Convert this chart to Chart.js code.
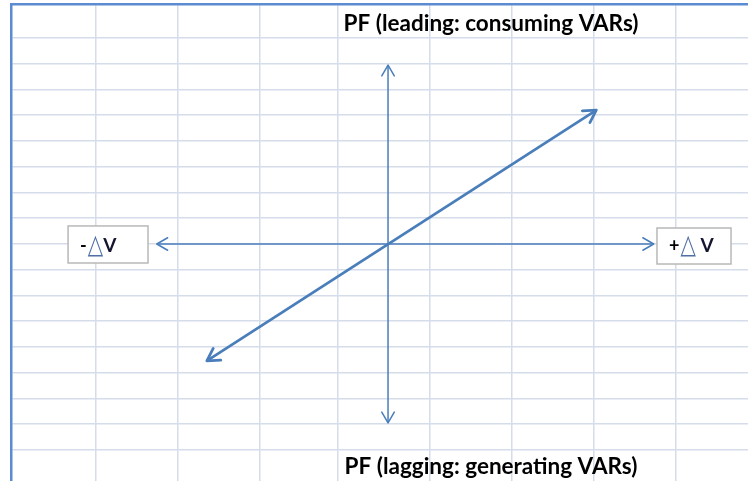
<!DOCTYPE html>
<html><head><meta charset="utf-8">
<script src="https://cdn.jsdelivr.net/npm/chart.js@4"></script>
<style>html,body{margin:0;padding:0;background:#fff;}canvas{display:block}</style>
</head><body>
<canvas id="c" width="748" height="481"></canvas>
<script>
// ---- data (diagram units: x = spreadsheet columns, y = spreadsheet rows, origin at axes crossing)
const topLabel = 'PF (leading: consuming VARs)';
const bottomLabel = 'PF (lagging: generating VARs)';
const negDvLabel = ['-', '△', 'V'];
const posDvLabel = ['+', '△', ' V'];
const dvAxisX = [-2.82, 3.24];
const pfAxisY = [6.95, -6.95];
const pfLineX = [-2.21, 2.54];
const pfLineY = [-4.54, 5.20];
const gridCols = [-3.57, -2.57, -1.57, -0.61, 0.51, 1.51, 2.51, 3.51];
const gridRows = [-8, -7, -6, -5, -4, -3, -2, -1, 0, 1, 2, 3, 4, 5, 6, 7, 8];

const AX = '#4a7ebb';

const diagramPlugin = {
  id: 'diagram',
  afterDatasetsDraw(chart) {
    const ctx = chart.ctx;
    chart.data.datasets.forEach((ds, i) => {
      if (!ds.arrowLen) return;
      const pts = chart.getDatasetMeta(i).data;
      const ends = [[pts[0], pts[pts.length - 1]], [pts[pts.length - 1], pts[0]]];
      ctx.save();
      ctx.strokeStyle = ds.borderColor;
      ctx.lineWidth = ds.borderWidth;
      ctx.lineCap = 'round';
      ctx.lineJoin = 'round';
      ends.forEach(([tip, from]) => {
        const a = Math.atan2(from.y - tip.y, from.x - tip.x);
        const h = Math.PI / 6;
        ctx.beginPath();
        ctx.moveTo(tip.x + ds.arrowLen * Math.cos(a - h), tip.y + ds.arrowLen * Math.sin(a - h));
        ctx.lineTo(tip.x, tip.y);
        ctx.lineTo(tip.x + ds.arrowLen * Math.cos(a + h), tip.y + ds.arrowLen * Math.sin(a + h));
        ctx.stroke();
      });
      ctx.restore();
    });
  },
  afterDraw(chart) {
    const ctx = chart.ctx;
    const xs = chart.scales.x, ys = chart.scales.y;
    ctx.save();
    // titles
    ctx.fillStyle = '#000';
    ctx.font = 'bold 22.5px Lato';
    ctx.textAlign = 'center';
    ctx.textBaseline = 'alphabetic';
    ctx.fillText(topLabel, xs.getPixelForValue(1.256), ys.getPixelForValue(8.27));
    ctx.fillText(bottomLabel, xs.getPixelForValue(1.256), ys.getPixelForValue(-8.93));
    // boxes
    const boxes = [
      {x0: -3.902, x1: -2.927, y0: 0.70, y1: -0.738, parts: negDvLabel},
      {x0: 3.280, x1: 4.183, y0: 0.621, y1: -0.777, parts: posDvLabel}
    ];
    boxes.forEach(b => {
      const L = xs.getPixelForValue(b.x0), R = xs.getPixelForValue(b.x1);
      const T = ys.getPixelForValue(b.y0), B = ys.getPixelForValue(b.y1);
      ctx.fillStyle = '#fff';
      ctx.fillRect(L, T, R - L, B - T);
      ctx.strokeStyle = '#b8b8b8';
      ctx.lineWidth = 1.5;
      ctx.strokeRect(L, T, R - L, B - T);
      let x = L + 12;
      const base = ys.getPixelForValue(-0.30);
      ctx.textAlign = 'left';
      // sign
      ctx.font = 'bold 18px Lato';
      ctx.fillStyle = '#000';
      ctx.fillText(b.parts[0], x, base);
      x += ctx.measureText(b.parts[0]).width + 1;
      // delta triangle
      ctx.font = '20px "DejaVu Sans"';
      ctx.fillStyle = '#4f6fa5';
      ctx.save();
      ctx.translate(x, base + 1.5);
      ctx.scale(1, 1.35);
      ctx.fillText(b.parts[1], 0, 0);
      ctx.restore();
      x += ctx.measureText(b.parts[1]).width;
      // V
      ctx.font = 'bold 19px Lato';
      ctx.fillStyle = '#151530';
      ctx.fillText(b.parts[2], x, base);
    });
    ctx.restore();
  }
};

new Chart(document.getElementById('c'), {
  type: 'scatter',
  data: {
    datasets: [
      {label: 'ΔV axis', data: dvAxisX.map(x => ({x, y: 0})), borderColor: AX, borderWidth: 1.5, arrowLen: 12.5},
      {label: 'PF axis', data: pfAxisY.map(y => ({x: 0, y})), borderColor: AX, borderWidth: 1.5, arrowLen: 12.5},
      {label: 'PF vs ΔV', data: pfLineX.map((x, i) => ({x, y: pfLineY[i]})), borderColor: AX, borderWidth: 2.75, arrowLen: 14}
    ].map(d => Object.assign(d, {showLine: true, pointRadius: 0, pointHoverRadius: 0, fill: false}))
  },
  options: {
    responsive: false,
    animation: false,
    layout: {padding: {left: 11, top: 4, right: 0, bottom: 0}},
    plugins: {legend: {display: false}, tooltip: {enabled: false}, title: {display: false}},
    scales: {
      x: {
        type: 'linear', position: 'top', min: -4.598, max: 4.390,
        afterBuildTicks: s => { s.ticks = gridCols.map(v => ({value: v})); },
        ticks: {display: false},
        grid: {color: '#d5dcea', lineWidth: 1.5, drawTicks: false},
        border: {display: true, color: '#5b8bd0', width: 2.5}
      },
      y: {
        type: 'linear', position: 'left', min: -9.204, max: 9.320,
        afterBuildTicks: s => { s.ticks = gridRows.map(v => ({value: v})); },
        ticks: {display: false},
        grid: {color: '#d5dcea', lineWidth: 1.5, drawTicks: false},
        border: {display: true, color: '#5b8bd0', width: 2.5}
      }
    }
  },
  plugins: [diagramPlugin]
});
</script>
</body></html>
